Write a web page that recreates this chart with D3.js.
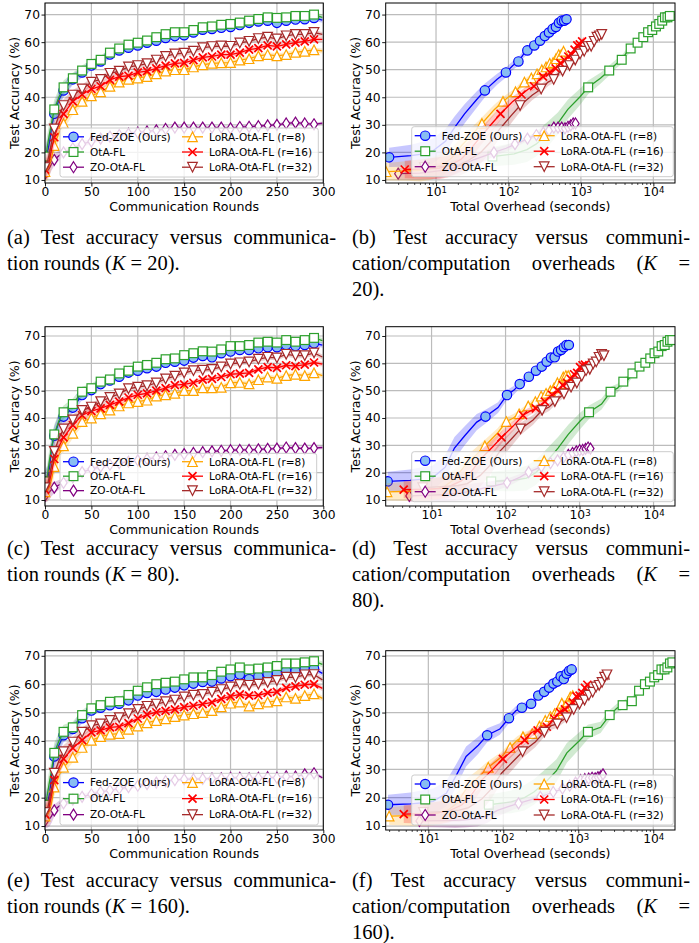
<!DOCTYPE html>
<html>
<head>
<meta charset="utf-8">
<script src="https://cdn.jsdelivr.net/npm/d3@7"></script>
<style>
  body { margin: 0; background: #fff; }
  #wrap { position: relative; width: 699px; height: 943px; background: #fff; }
  #fig { position: absolute; left: 0; top: 0; font-family: "DejaVu Sans", sans-serif; }
  .cap { position: absolute; font-family: "Liberation Serif", "Times New Roman", serif;
         font-size: 20.5px; line-height: 26px; color: #000; }
  .cap .j { text-align: justify; text-align-last: justify; }
</style>
</head>
<body>
<div id="wrap">
  <svg id="fig" width="699" height="943"></svg>
  <div class="cap" style="left:7px;top:224px;width:329px">
    <div class="j">(a) Test accuracy versus communica-</div>
    <div>tion rounds (<i>K</i> = 20).</div>
  </div>
  <div class="cap" style="left:352px;top:224px;width:338px">
    <div class="j">(b) Test accuracy versus communi-</div>
    <div class="j">cation/computation overheads (<i>K</i> =</div>
    <div>20).</div>
  </div>
  <div class="cap" style="left:7px;top:535px;width:329px">
    <div class="j">(c) Test accuracy versus communica-</div>
    <div>tion rounds (<i>K</i> = 80).</div>
  </div>
  <div class="cap" style="left:352px;top:535px;width:338px">
    <div class="j">(d) Test accuracy versus communi-</div>
    <div class="j">cation/computation overheads (<i>K</i> =</div>
    <div>80).</div>
  </div>
  <div class="cap" style="left:7px;top:867px;width:329px">
    <div class="j">(e) Test accuracy versus communica-</div>
    <div>tion rounds (<i>K</i> = 160).</div>
  </div>
  <div class="cap" style="left:352px;top:867px;width:338px">
    <div class="j">(f) Test accuracy versus communi-</div>
    <div class="j">cation/computation overheads (<i>K</i> =</div>
    <div>160).</div>
  </div>
</div>
<script>
"use strict";

const ROUNDS = [0, 1, 2, 3, 5, 7, 10, 15, 20, 30, 40, 50, 60, 70, 80, 90, 100, 110, 120, 130, 140,
  150, 160, 170, 180, 190, 200, 210, 220, 230, 240, 250, 260, 270, 280, 290, 299];

const SERIES = ["Fed-ZOE (Ours)", "OtA-FL", "ZO-OtA-FL", "LoRA-OtA-FL (r=8)", "LoRA-OtA-FL (r=16)", "LoRA-OtA-FL (r=32)"];

// test accuracy (%), K = 20
const k20FedZoe = [18.2, 18.8, 19.5, 20.5, 24, 29, 34, 39, 42.5, 46.5, 49, 51.5, 53, 55.5, 57, 58, 58.8, 59.8, 60.5, 61.5, 62.2, 62.5, 63.5, 64.5, 64.8, 65.2, 65.5, 66.2, 67, 67.5, 67.8, 67, 67.8, 68.2, 68.3, 68.8, 68];
const k20OtaFl = [18.5, 19.5, 21, 23, 27, 30.5, 35.6, 40, 43.6, 46.9, 49.7, 52.1, 53.6, 56.2, 57.7, 59.1, 59.8, 60.6, 61.8, 62.9, 63.6, 63.6, 64.4, 65.4, 65.7, 66.3, 66.6, 67.1, 67.8, 68.4, 69.0, 68.8, 69.0, 69.5, 69.5, 70.0, 69.0];
const k20ZoOtaFl = [12.3, 12.5, 13, 13.5, 14.5, 15.8, 17.3, 18.8, 20, 21.5, 23, 24, 25, 25.7, 26.3, 26.8, 27.2, 27.6, 28, 28.5, 29, 29, 29, 29, 29, 29, 28.7, 29.2, 29.3, 29.5, 29.8, 30, 30.5, 30.8, 30.5, 30.2, 30.6];
const k20Lora8 = [13, 13.3, 13.5, 14, 15.5, 18, 22.5, 27, 30.5, 35.5, 38.5, 40.5, 42, 44, 45.5, 46.5, 47, 47.5, 48.5, 49.5, 50, 50, 51, 51.8, 52.3, 52.5, 52.6, 53.5, 54, 55, 55.5, 55, 55.5, 56.3, 56.7, 57.2, 56.8];
const k20Lora16 = [13.8, 14, 14.3, 15, 17.5, 21, 25.5, 30.5, 34, 38.5, 41, 43, 44, 46.3, 47.5, 47.8, 49, 49.5, 50.5, 51.5, 52.3, 52.5, 53.5, 54.5, 54.8, 55.5, 55.5, 56.2, 57.3, 57.8, 58.8, 58.5, 59.2, 59.8, 60.3, 61, 61];
const k20Lora32 = [14.5, 15, 15.5, 17, 20, 23.5, 28.5, 33.5, 37, 40.8, 43, 45.5, 46.5, 48.7, 49.5, 51, 51.5, 52.2, 53.5, 54.8, 55.7, 56, 56.7, 58, 58.4, 58.6, 58.5, 59.7, 60.3, 61.3, 61.8, 61.2, 62.3, 62.8, 62.8, 63.5, 62.8];

// test accuracy (%), K = 80
const k80FedZoe = [16.8, 17.2, 17.6, 18, 22, 29, 33.5, 38.5, 40.5, 43.8, 48.4, 50.2, 52.4, 53.7, 55.1, 56.6, 57.3, 58.2, 58.8, 60.2, 60.6, 61, 62.1, 62.7, 62.2, 63.7, 64.3, 64.9, 64.9, 65.5, 65.9, 65.9, 66.7, 66.3, 66.7, 67.3, 66.7];
const k80OtaFl = [16.8, 17.2, 18, 20, 25, 29, 34, 39, 42.1, 45.1, 49.6, 50.9, 53.3, 54.1, 56.3, 57.3, 58.8, 59.4, 60.2, 61.5, 61.8, 63, 63.7, 64.4, 64.3, 65.1, 66.3, 66.3, 66.7, 67.6, 67.9, 67.6, 68.5, 67.9, 68.5, 69.3, 68.3];
const k80ZoOtaFl = [11.5, 11.8, 12, 12.3, 13, 13.8, 14.5, 15.5, 16.3, 18.3, 20.2, 21.3, 22.2, 22.9, 23.5, 24, 24.5, 25, 25.5, 26, 26.5, 26.8, 27.2, 27.5, 27.8, 28, 28.2, 28.3, 28.3, 28.5, 28.7, 28.8, 29.2, 29, 28.8, 29, 29.2];
const k80Lora8 = [13, 13.2, 13.4, 13.8, 15, 17.5, 22.2, 26.5, 29.8, 34.4, 38.7, 40, 41.5, 42.9, 44.4, 45.5, 46, 46.5, 48, 48.5, 49, 50, 50, 51, 51, 51.2, 52.9, 53, 52.5, 54, 55, 54.5, 55.5, 56, 55.5, 56.5, 55.5];
const k80Lora16 = [13.8, 14, 14.2, 14.8, 17, 20, 25, 29.5, 32.9, 37.4, 41, 42.5, 43.5, 44.8, 46, 47.5, 48.5, 49, 50, 50.9, 52, 52.3, 52.9, 54, 54.3, 55, 56, 56.2, 56.5, 57.8, 58.6, 58.3, 59.3, 59, 59.5, 60.3, 59.7];
const k80Lora32 = [14.5, 15, 15.3, 16, 19, 22.5, 27.8, 32.5, 36, 39.3, 42.8, 44, 46, 47.5, 48.8, 50.7, 51.3, 51.8, 52.8, 54.3, 55.3, 56.5, 57.3, 57.5, 57.8, 58.7, 59.8, 60.2, 60.5, 61.5, 62.2, 62, 63.3, 62.8, 62.8, 63.8, 62.3];

// test accuracy (%), K = 160
const k160FedZoe = [17.5, 17.8, 18.2, 18.7, 21.5, 27.5, 34.5, 38.5, 42, 44.2, 48, 50.7, 51.7, 52.6, 53.1, 54.3, 56, 56.9, 57.3, 58.1, 58.8, 59.6, 60.2, 60.8, 60.9, 62, 62.8, 63.4, 61.8, 62.7, 63.7, 63.8, 64.7, 64.5, 65.2, 65.5, 63.8];
const k160OtaFl = [17.5, 18.5, 20, 22, 26, 29.5, 35.8, 40, 43.2, 44.8, 49.1, 51.5, 52.6, 53.8, 54, 56.2, 57.7, 58.9, 60, 60.5, 60.9, 61.7, 62.4, 62.4, 63.2, 64.4, 65.2, 65.9, 65.2, 65.5, 65.9, 66.4, 67.3, 67.3, 67.7, 68.1, 67];
const k160ZoOtaFl = [11.8, 11.9, 12, 12.2, 12.6, 13.5, 15.5, 17, 18, 19.3, 20.3, 21.2, 22, 22.6, 23.2, 23.7, 24.2, 24.8, 25.3, 25.8, 26.2, 26.5, 26.5, 26.6, 26.7, 26.8, 27, 27, 26.8, 27, 27.2, 27, 27.5, 27.4, 28.2, 28.6, 27];
const k160Lora8 = [13.5, 13.7, 14, 14.3, 15.5, 18, 23.7, 27.5, 30.7, 34.2, 37.7, 40.2, 41.5, 42.3, 42.6, 44.1, 45.2, 46.4, 47.2, 47.8, 48.6, 49.1, 49.6, 50, 50.7, 52, 53.3, 53.7, 52.3, 53.1, 53.7, 54.1, 55.5, 55, 56, 56.6, 55];
const k160Lora16 = [14.2, 14.4, 14.7, 15.3, 17.5, 21, 26.2, 30.5, 33.7, 37.5, 40.3, 43, 43.7, 44.8, 45, 46.3, 47.9, 49.3, 50.1, 50.6, 51.1, 51.9, 52.4, 53, 53.6, 54.8, 55.7, 56.4, 56, 56.1, 56.9, 57.3, 58.7, 59.2, 59.8, 60, 58.5];
const k160Lora32 = [14.8, 15.2, 15.6, 16.5, 19.5, 23, 28.6, 33, 36.2, 39.6, 43.1, 45.4, 46, 47.2, 48.2, 49.6, 51.1, 52.2, 53, 53.8, 54.4, 55.5, 56.1, 56.4, 57.2, 58.1, 59, 59.9, 59.6, 60, 60.6, 61.3, 62.5, 62.4, 63.3, 63.4, 61.5];

// overhead per round (seconds) for each method
const COST_K20 = [2.25, 60, 3.0, 2.05, 3.7, 6.9];
const COST_K80 = [2.55, 64, 5.0, 2.5, 4.2, 7.6];
const COST_K160 = [2.9, 64, 7.6, 3.0, 4.7, 8.6];

// half-width of the shaded band (std), per sampled round
const SPREAD = [3.5, 4, 4.5, 4.5, 4.5, 4, 3.5, 3, 2.5, 2, 1.8, 1.6, 1.5, 1.4, 1.3, 1.3, 1.2, 1.2, 1.2, 1.1, 1.1, 1.1, 1.1, 1.0, 1.0, 1.0, 1.0, 1.0, 1.0, 1.0, 1.0, 1.0, 1.0, 1.0, 1.0, 1.0, 1.0];

const Y_TICKS = [10, 20, 30, 40, 50, 60, 70];
const ROUND_TICKS = [0, 50, 100, 150, 200, 250, 300];
const LOG_TICKS = [10, 100, 1000, 10000];

// styling
const COLORS = ["#0000ff", "#2ca02c", "#800080", "#ffa500", "#ff0000", "#a52a2a"];
const FACES = ["#88bdf2", "#ffffff", "#ffffff", "#ffffff", "none", "#ffffff"];
const MARKERS = ["o", "s", "d", "^", "x", "v"];
const BAND_SCALE = [1, 1, 0.6, 0.9, 0.9, 0.9];
const FONT_TICK = 12.3, FONT_LABEL = 12.6, FONT_LEG = 10.5;

const K20 = [k20FedZoe, k20OtaFl, k20ZoOtaFl, k20Lora8, k20Lora16, k20Lora32];
const K80 = [k80FedZoe, k80OtaFl, k80ZoOtaFl, k80Lora8, k80Lora16, k80Lora32];
const K160 = [k160FedZoe, k160OtaFl, k160ZoOtaFl, k160Lora8, k160Lora16, k160Lora32];

const PANELS = [
  { id: "a", log: false, x0: 45, x1: 323.3, y0: 3, y1: 183, xDom: [0, 300], yDom: [8.9, 74.2],
    series: K20, cost: null, markEvery: 10, legend: [60, 128, 258.3, 49] },
  { id: "b", log: true, x0: 385.7, x1: 675, y0: 3, y1: 183, xDom: [2.02, 19900], yDom: [8.9, 74.2],
    series: K20, cost: COST_K20, markEvery: 20, legend: [411.7, 126.7, 261.6, 50] },
  { id: "c", log: false, x0: 45, x1: 323.3, y0: 326.7, y1: 506, xDom: [0, 300], yDom: [7.8, 73.4],
    series: K80, cost: null, markEvery: 10, legend: [60, 453.3, 256.7, 46.7] },
  { id: "d", log: true, x0: 385.7, x1: 675, y0: 326.7, y1: 506, xDom: [2.4, 19500], yDom: [7.8, 73.4],
    series: K80, cost: COST_K80, markEvery: 20, legend: [411.7, 451.7, 261.6, 50] },
  { id: "e", log: false, x0: 45, x1: 323.3, y0: 650.7, y1: 830, xDom: [0, 300], yDom: [8.6, 71.8],
    series: K160, cost: null, markEvery: 10, legend: [60, 773.3, 258.3, 51.7] },
  { id: "f", log: true, x0: 385.7, x1: 675, y0: 650.7, y1: 830, xDom: [2.7, 19500], yDom: [8.6, 71.8],
    series: K160, cost: COST_K160, markEvery: 20, legend: [411.7, 775, 261.6, 50] }
];

const svg = d3.select("#fig");
svg.append("rect").attr("width", 699).attr("height", 943).attr("fill", "#fff");

function drawMarker(g, s, cx, cy) {
  const m = MARKERS[s];
  const st = { stroke: COLORS[s], fill: FACES[s], "stroke-width": 1.2 };
  let el;
  if (m == "o") {
    el = g.append("circle").attr("cx", cx).attr("cy", cy).attr("r", 4.7);
  } else if (m == "s") {
    el = g.append("rect").attr("x", cx - 4.4).attr("y", cy - 4.4).attr("width", 8.8).attr("height", 8.8);
  } else {
    let p;
    if (m == "d") p = "M0,-5.5L3.5,0L0,5.5L-3.5,0Z";
    if (m == "^") p = "M0,-4.8L4.8,4.8L-4.8,4.8Z";
    if (m == "v") p = "M0,4.8L4.8,-4.8L-4.8,-4.8Z";
    if (m == "x") { p = "M-4,-4L4,4M-4,4L4,-4"; st["stroke-width"] = 1.7; }
    el = g.append("path").attr("d", p).attr("transform", `translate(${cx},${cy})`);
  }
  Object.keys(st).forEach(k => el.attr(k, st[k]));
}

function styleAxis(ax) {
  ax.select(".domain").remove();
  ax.attr("font-family", "DejaVu Sans, sans-serif").attr("font-size", FONT_TICK);
  ax.selectAll(".tick line").attr("stroke", "#000").attr("stroke-width", 0.9);
  ax.selectAll(".tick text").attr("fill", "#000");
}

function drawPanel(p) {
  const g = svg.append("g");
  const x = (p.log ? d3.scaleLog() : d3.scaleLinear()).domain(p.xDom).range([p.x0, p.x1]);
  const y = d3.scaleLinear().domain(p.yDom).range([p.y1, p.y0]);
  const xVal = (s, i) => p.log ? (ROUNDS[i] + 1) * p.cost[s] : ROUNDS[i];
  const xTicks = p.log ? LOG_TICKS : ROUND_TICKS;

  // grid
  const grid = g.append("g").attr("stroke", "#bcbcbc").attr("stroke-width", 1.2);
  grid.selectAll("line.gy").data(Y_TICKS).join("line").attr("class", "gy")
    .attr("x1", p.x0).attr("x2", p.x1).attr("y1", d => y(d)).attr("y2", d => y(d));
  grid.selectAll("line.gx").data(xTicks).join("line").attr("class", "gx")
    .attr("x1", d => x(d)).attr("x2", d => x(d)).attr("y1", p.y0).attr("y2", p.y1);

  // curves, clipped to the plot area
  const clipId = "clip-" + p.id;
  svg.append("clipPath").attr("id", clipId).append("rect")
    .attr("x", p.x0).attr("y", p.y0).attr("width", p.x1 - p.x0).attr("height", p.y1 - p.y0);
  const plot = g.append("g").attr("clip-path", `url(#${clipId})`);

  p.series.forEach(function(vals, s) {
    const pts = vals.map((v, i) => ({ x: xVal(s, i), y: v, sd: SPREAD[i] * BAND_SCALE[s], r: ROUNDS[i] }));
    plot.append("path").datum(pts)
      .attr("d", d3.area().x(d => x(d.x)).y0(d => y(d.y - d.sd)).y1(d => y(d.y + d.sd)))
      .attr("fill", COLORS[s]).attr("fill-opacity", 0.22).attr("stroke", "none");
    plot.append("path").datum(pts)
      .attr("d", d3.line().x(d => x(d.x)).y(d => y(d.y)))
      .attr("fill", "none").attr("stroke", COLORS[s]).attr("stroke-width", 1.3);
    pts.filter(d => d.r % p.markEvery == 0 && d.r < 299)
      .forEach(d => drawMarker(plot, s, x(d.x), y(d.y)));
  });

  // axes
  const ay = g.append("g").attr("transform", `translate(${p.x0},0)`)
    .call(d3.axisLeft(y).tickValues(Y_TICKS).tickSize(3.5).tickPadding(1.5));
  styleAxis(ay);

  const axisX = d3.axisBottom(x).tickValues(xTicks).tickSize(3.5).tickPadding(1.2);
  if (p.log) axisX.tickFormat(() => "10");
  const ax = g.append("g").attr("transform", `translate(0,${p.y1})`).call(axisX);
  styleAxis(ax);
  if (p.log) {
    ax.selectAll(".tick text").append("tspan")
      .attr("dy", "-0.45em").attr("font-size", 8.6)
      .text(d => Math.round(Math.log10(d)));
    // minor ticks
    const minors = [];
    [1, 10, 100, 1000, 10000].forEach(dec => {
      for (let k = 2; k < 10; k++) {
        const v = dec * k;
        if (v > p.xDom[0] && v < p.xDom[1]) minors.push(v);
      }
    });
    const am = g.append("g").attr("transform", `translate(0,${p.y1})`)
      .call(d3.axisBottom(x).tickValues(minors).tickSize(2).tickFormat(""));
    styleAxis(am);
    am.selectAll(".tick line").attr("stroke-width", 0.7);
  }

  // frame
  g.append("rect").attr("x", p.x0).attr("y", p.y0)
    .attr("width", p.x1 - p.x0).attr("height", p.y1 - p.y0)
    .attr("fill", "none").attr("stroke", "#000").attr("stroke-width", 1);

  // axis labels
  g.append("text").attr("transform", `translate(${p.x0 - 26},${(p.y0 + p.y1) / 2}) rotate(-90)`)
    .attr("text-anchor", "middle").attr("font-size", FONT_LABEL).text("Test Accuracy (%)");
  g.append("text").attr("x", (p.x0 + p.x1) / 2).attr("y", p.y1 + 27.5)
    .attr("text-anchor", "middle").attr("font-size", FONT_LABEL)
    .text(p.log ? "Total Overhead (seconds)" : "Communication Rounds");

  drawLegend(g, p.legend);
}

function drawLegend(g, box) {
  const [lx, ly, lw, lh] = box;
  const lg = g.append("g");
  lg.append("rect").attr("x", lx).attr("y", ly).attr("width", lw).attr("height", lh)
    .attr("rx", 2.5).attr("fill", "#fff").attr("fill-opacity", 0.8)
    .attr("stroke", "#cccccc").attr("stroke-width", 1);
  SERIES.forEach(function(name, s) {
    const col = Math.floor(s / 3), row = s % 3;
    const hx = lx + 3 + col * 119;
    const cy = ly + lh * 0.18 + row * lh * 0.31;
    lg.append("line").attr("x1", hx).attr("x2", hx + 21).attr("y1", cy).attr("y2", cy)
      .attr("stroke", COLORS[s]).attr("stroke-width", 1.3);
    drawMarker(lg, s, hx + 10.5, cy);
    lg.append("text").attr("x", hx + 27).attr("y", cy + 3.8)
      .attr("font-size", FONT_LEG).text(name);
  });
}

PANELS.forEach(drawPanel);
</script>
</body>
</html>
